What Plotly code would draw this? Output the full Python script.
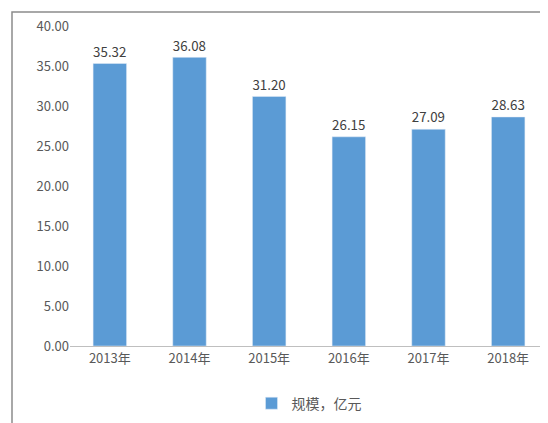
import plotly.graph_objects as go

years = ["2013年", "2014年", "2015年", "2016年", "2017年", "2018年"]
scale = [35.32, 36.08, 31.20, 26.15, 27.09, 28.63]
series_name = "规模，亿元"

fig = go.Figure()
fig.add_trace(go.Bar(
    x=years, y=scale, name=series_name,
    marker_color="#5B9BD5", width=0.42,
    text=[f"{v:.2f}" for v in scale], textposition="outside",
    textfont=dict(size=14, color="#404040"), cliponaxis=False,
))

W, H = 548, 423
l, r, t, b = 62, 8, 18, 85
fig.update_layout(
    width=W, height=H,
    margin=dict(l=l, r=r, t=t, b=b, autoexpand=False),
    paper_bgcolor="white", plot_bgcolor="white",
    font=dict(family="Noto Sans CJK SC, DejaVu Sans", size=13, color="#595959"),
    showlegend=True,
    legend=dict(orientation="h", x=0.5, xanchor="center", y=-0.13, yanchor="top",
                font=dict(size=14, color="#595959")),
    yaxis=dict(range=[0, 40], dtick=5, tickformat=".2f", showgrid=False,
               zeroline=False, ticks="", automargin=False),
    xaxis=dict(showline=True, linecolor="#BFBFBF", linewidth=1, ticks="", automargin=False),
)
# outer frame
pw, ph = W - l - r, H - t - b
x0, x1 = -(l - 4) / pw, 1 + (r - 4) / pw
y0, y1 = -(b - 4) / ph, 1 + (t - 4) / ph
fig.add_shape(type="rect", xref="paper", yref="paper", x0=x0, x1=x1, y0=y0, y1=y1,
              line=dict(color="#8C8C8C", width=1.5))

fig.write_html("out.html")
